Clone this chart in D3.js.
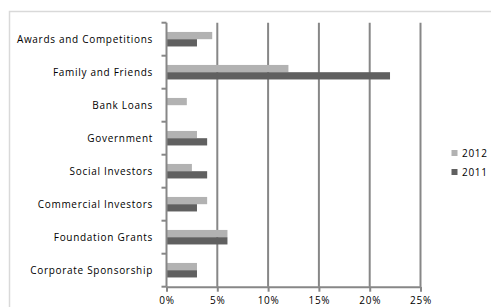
<!DOCTYPE html>
<html><head><meta charset="utf-8">
<script src="https://cdn.jsdelivr.net/npm/d3@7"></script>
<style>html,body{margin:0;padding:0;background:#fff;}svg{display:block;}</style>
</head><body>
<script>
const categories = ["Awards and Competitions","Family and Friends","Bank Loans","Government","Social Investors","Commercial Investors","Foundation Grants","Corporate Sponsorship"];
const series = ["2012","2011"];
const values2012 = [4.5,12,2,3,2.5,4,6,3];
const values2011 = [3,22,0,4,4,3,6,3];
const xTicks = [0,5,10,15,20,25];
const colors = {"2012":"#b2b2b2","2011":"#606060"};

(function(){
const W=491,H=307;
const svg=d3.select("body").append("svg").attr("width",W).attr("height",H);
const font="'Open Sans', sans-serif";
const ls="0.7px";
svg.append("rect").attr("x",9.5).attr("y",11.5).attr("width",W).attr("height",H).attr("fill","none").attr("stroke","#d9d9d9").attr("stroke-width",1.5);

const pL=166.5,pR=420.5,pT=22.7,pB=286.7;
const x=d3.scaleLinear().domain([0,25]).range([pL,pR]);
const y=d3.scaleBand().domain(categories).range([pT,pB]).paddingInner(0.56).paddingOuter(0.28);
const ys=d3.scaleBand().domain(series).range([0,y.bandwidth()]);

const gridColor="#878787";
svg.append("g").selectAll("line").data(xTicks.slice(1)).join("line")
  .attr("x1",d=>x(d)).attr("x2",d=>x(d)).attr("y1",pT).attr("y2",pB)
  .attr("stroke",gridColor).attr("stroke-width",2);

const data=categories.map((c,i)=>({c,v:{"2012":values2012[i],"2011":values2011[i]}}));
const g=svg.append("g");
data.forEach(d=>{
  series.forEach(s=>{
    if(d.v[s]>0) g.append("rect").attr("x",x(0)).attr("y",y(d.c)+ys(s)).attr("width",x(d.v[s])-x(0)).attr("height",ys.bandwidth()).attr("fill",colors[s]);
  });
});

const xa=svg.append("g").attr("transform",`translate(0,${pB})`)
  .call(d3.axisBottom(x).tickValues(xTicks).tickFormat(d=>d+"%").tickSize(5).tickSizeOuter(0));
xa.select(".domain").attr("stroke",gridColor).attr("stroke-width",2);
xa.selectAll(".tick line").attr("stroke",gridColor).attr("stroke-width",2);
xa.selectAll("text").attr("font-family",font).attr("font-size",10).attr("fill","#000")
  .attr("y",17.3).attr("dy",0).attr("letter-spacing",ls);

const yStep=(pB-pT)/categories.length;
const ya=svg.append("g");
ya.append("line").attr("x1",pL).attr("x2",pL).attr("y1",pT).attr("y2",pB).attr("stroke",gridColor).attr("stroke-width",2);
ya.selectAll("line.t").data(d3.range(categories.length+1)).join("line").attr("class","t")
  .attr("x1",pL-5).attr("x2",pL).attr("y1",i=>pT+i*yStep).attr("y2",i=>pT+i*yStep)
  .attr("stroke",gridColor).attr("stroke-width",2);
ya.selectAll("text").data(categories).join("text")
  .attr("x",pL-13.5).attr("y",d=>y(d)+y.bandwidth()/2).attr("dy","0.35em")
  .attr("text-anchor","end").attr("font-family",font).attr("font-size",10).attr("fill","#000")
  .attr("letter-spacing",ls).text(d=>d);

const lg=svg.append("g");
series.forEach((s,i)=>{
  const ly=153+i*19;
  lg.append("rect").attr("x",451.5).attr("y",ly-3).attr("width",6).attr("height",6).attr("fill",colors[s]);
  lg.append("text").attr("x",462).attr("y",ly).attr("dy","0.35em").attr("font-family",font).attr("font-size",10).attr("fill","#000")
    .attr("letter-spacing",ls).text(s);
});
})();
</script>
</body></html>
